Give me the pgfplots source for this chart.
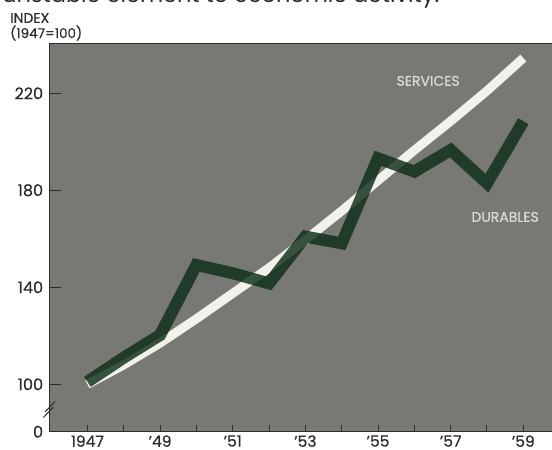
\documentclass[border=0pt]{standalone}
\usepackage{fontspec}
\setmainfont{Poppins}
\newfontfamily\medfont{Poppins}[FakeBold=0.6]
\usepackage{pgfplots}
\pgfplotsset{compat=1.18}
\usepackage{graphicx}
\definecolor{bggray}{RGB}{120,121,117}
\definecolor{servwhite}{RGB}{242,242,236}
\definecolor{durgreen}{RGB}{14,46,26}
\definecolor{labgray}{RGB}{218,219,212}
\definecolor{inkc}{RGB}{45,45,45}
\begin{document}
\begin{tikzpicture}
\begin{axis}[
  at={(49.3pt,18.3pt)}, anchor=south west,
  scale only axis, width=506.7pt, height=388.4pt,
  xmin=1945.95, xmax=1959.9, ymin=80.45, ymax=240.6,
  axis background/.style={fill=bggray},
  axis line style={draw=inkc, line width=0.8pt},
  tick align=inside,
  xtick pos=bottom, ytick pos=left,
  major tick length=12pt,
  minor tick length=7pt,
  xtick={1947,1949,1951,1953,1955,1957,1959},
  xticklabels={1947,’49,’51,’53,’55,’57,’59},
  xtick style={draw=none},
  minor xtick={1947,1948,1949,1950,1951,1952,1953,1954,1955,1956,1957,1958,1959},
  minor x tick style={draw=inkc, line width=1pt},
  ytick={80.45,100,140,180,220},
  yticklabels={0,100,140,180,220},
  ytick style={draw=inkc, line width=1pt},
  /pgf/number format/assume math mode=true,
  ticklabel style={font=\medfont\fontsize{16}{16}\selectfont, text=inkc, inner sep=0pt},
  xticklabel style={anchor=north, yshift=-3.5pt, font=\medfont\fontsize{15.5}{15.5}\selectfont},
  yticklabel style={anchor=east, xshift=-6pt},
  clip=true,
]
\addplot[servwhite, line width=9pt, line cap=butt, line join=round] coordinates {
 (1947,100) (1948,108) (1949,117) (1950,127) (1951,137.5) (1952,148)
 (1953,159.5) (1954,171.5) (1955,184) (1956,196.5) (1957,208.5) (1958,221) (1959,234.5)
};
\addplot[durgreen, opacity=0.82, line width=12pt, line cap=butt, line join=miter] coordinates {
 (1947,101) (1948,111) (1949,120.3) (1950,149.2) (1951,145.8) (1952,141.6)
 (1953,160.9) (1954,158.1) (1955,193.2) (1956,187.7) (1957,196.6) (1958,182.9) (1959,208.5)
};
\node[text=labgray, font=\medfont\fontsize{14}{14}\selectfont] at (axis cs:1956.38,225.1) {SERVICES};
\node[text=labgray, font=\medfont\fontsize{14}{14}\selectfont] at (axis cs:1958.5,169.0) {DURABLES};
\draw[inkc, line width=1.4pt] (rel axis cs:0,0) -- (rel axis cs:1,0);
\end{axis}
% axis break marks
\draw[inkc, line width=1pt] (45pt,38pt) -- (55pt,48.5pt);
\draw[inkc, line width=1pt] (43.3pt,32.5pt) -- (53.3pt,43pt);
% headings
\node[anchor=base west, inner sep=0pt, text=inkc] at (2pt,447.5pt)
  {\resizebox{437pt}{!}{\fontsize{22}{22}\selectfont unstable element to economic activity.}};
\node[anchor=west, inner sep=0pt, text=inkc, font=\medfont\fontsize{14}{14}\selectfont] at (10pt,432pt) {INDEX};
\node[anchor=west, inner sep=0pt, text=inkc, font=\medfont\fontsize{13.5}{13.5}\selectfont] at (10pt,417pt) {(1947=100)};
\pgfresetboundingbox
\path[use as bounding box] (0pt,0pt) rectangle (552pt,450pt);
\end{tikzpicture}
\end{document}
